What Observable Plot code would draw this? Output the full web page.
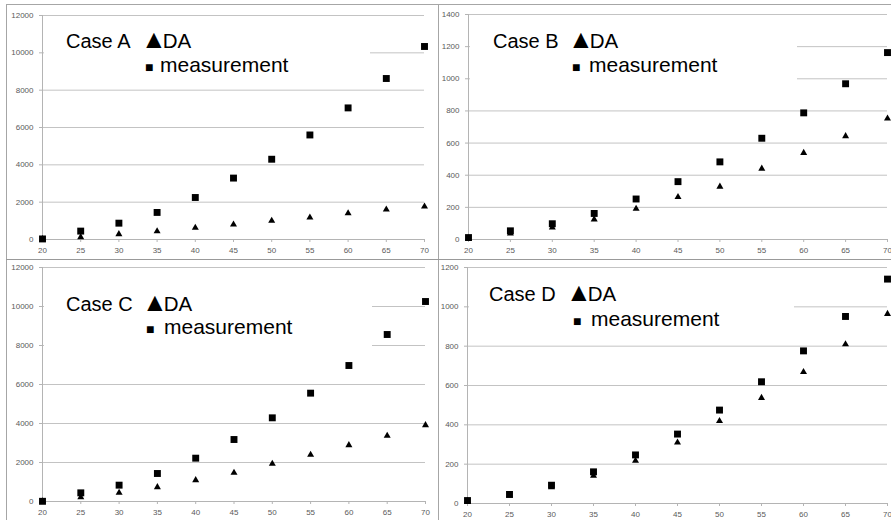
<!DOCTYPE html>
<html><head><meta charset="utf-8">
<script src="https://cdn.jsdelivr.net/npm/d3@7"></script>
<script src="https://cdn.jsdelivr.net/npm/@observablehq/plot@0.6"></script>
<style>
body{margin:0;background:#fff;overflow:hidden}
#wrap{position:relative;width:891px;height:520px;overflow:hidden;background:#fff}
.panel{position:absolute}
#overlay{position:absolute;left:0;top:0;pointer-events:none}
</style></head><body><div id="wrap"></div>
<script>
// ---- data ----
const ages = [20, 25, 30, 35, 40, 45, 50, 55, 60, 65, 70];
const yTicksAC = [0, 2000, 4000, 6000, 8000, 10000, 12000];
const yTicksB = [0, 200, 400, 600, 800, 1000, 1200, 1400];
const yTicksD = [0, 200, 400, 600, 800, 1000, 1200];
const caseNames = ["Case A", "Case B", "Case C", "Case D"];
const seriesDA = "DA";
const seriesMeas = "measurement";

const measA = [30, 450, 875, 1450, 2250, 3290, 4300, 5600, 7050, 8625, 10340];
const daA   = [20, 125, 286, 446, 625, 804, 1000, 1180, 1410, 1605, 1770];
const measB = [12, 54, 98, 162, 252, 360, 483, 630, 788, 969, 1163];
const daB   = [8, 37, 75, 125, 191, 264, 329, 441, 539, 643, 753];
const measC = [10, 444, 838, 1436, 2222, 3179, 4291, 5556, 6974, 8564, 10256];
const daC   = [10, 222, 444, 735, 1094, 1470, 1932, 2393, 2889, 3368, 3915];
const measD = [15, 46, 93, 161, 247, 353, 475, 619, 776, 951, 1141];
const daD   = [12, 41, 83, 141, 217, 310, 419, 537, 669, 810, 964];

// ---- layout ----
const panels = [
  {name: caseNames[0], da: daA, meas: measA, yTicks: yTicksAC, left: 0, top: 0, w: 438, h: 259, ml: 42, mt: 15, mb: 20, mr: 14,
   box: [44, 20, 370, 85], lg: {cx: 66, cy: 48, tx: 145, mx: 145, my: 72, mtx: 160}},
  {name: caseNames[1], da: daB, meas: measB, yTicks: yTicksB, left: 438, top: 0, w: 453, h: 259, ml: 30, mt: 14, mb: 20, mr: 4,
   box: [470, 20, 797, 100], lg: {cx: 493, cy: 48, tx: 572, mx: 572, my: 72, mtx: 589}},
  {name: caseNames[2], da: daC, meas: measC, yTicks: yTicksAC, left: 0, top: 259, w: 438, h: 261, ml: 42, mt: 8, mb: 19, mr: 13,
   box: [44, 272, 372, 355], lg: {cx: 66, cy: 311, tx: 146, mx: 146, my: 334, mtx: 164}},
  {name: caseNames[3], da: daD, meas: measD, yTicks: yTicksD, left: 438, top: 259, w: 453, h: 261, ml: 29, mt: 8, mb: 17, mr: 4,
   box: [469, 275, 794, 335], lg: {cx: 489, cy: 301, tx: 570, mx: 573, my: 326, mtx: 591}}
];

const wrap = document.getElementById("wrap");
const gridColor = "#c3c3c3";
const axisColor = "#b4b4b4";

for (const p of panels) {
  const da = ages.map((a, i) => ({age: a, v: p.da[i]}));
  const ms = ages.map((a, i) => ({age: a, v: p.meas[i]}));
  const chart = Plot.plot({
    width: p.w, height: p.h,
    marginLeft: p.ml, marginTop: p.mt, marginBottom: p.mb, marginRight: p.mr,
    style: {fontFamily: "'Liberation Sans', Arial, sans-serif", fontSize: "8px", color: "#5a5a5a", background: "transparent", overflow: "visible"},
    x: {domain: [ages[0], ages[ages.length - 1]]},
    y: {domain: [0, p.yTicks[p.yTicks.length - 1]]},
    marks: [
      Plot.gridY(p.yTicks, {stroke: gridColor, strokeOpacity: 1}),
      Plot.ruleX([ages[0]], {stroke: axisColor}),
      Plot.ruleY([0], {stroke: axisColor}),
      Plot.axisY(p.yTicks, {tickSize: 3, tickPadding: 6, stroke: axisColor, label: null, tickFormat: d3.format("d")}),
      Plot.axisX(ages, {tickSize: 3, tickPadding: 5, stroke: axisColor, label: null, tickFormat: d3.format("d")}),
      Plot.dot(da, {x: "age", y: "v", symbol: "triangle", r: 2.6, fill: "#000", stroke: "none"}),
      Plot.dot(ms, {x: "age", y: "v", symbol: "square", r: 3.9, fill: "#000", stroke: "none"})
    ]
  });
  const div = document.createElement("div");
  div.className = "panel";
  div.style.left = p.left + "px";
  div.style.top = p.top + "px";
  div.appendChild(chart);
  wrap.appendChild(div);
}

// ---- overlay: legends and panel frame ----
const svg = d3.select(wrap).append("svg").attr("id", "overlay").attr("width", 891).attr("height", 520);
const frame = "#a6a6a6";
svg.append("line").attr("x1", 6).attr("x2", 891).attr("y1", 4.5).attr("y2", 4.5).attr("stroke", frame);
svg.append("line").attr("x1", 6.5).attr("x2", 6.5).attr("y1", 4).attr("y2", 520).attr("stroke", frame);
svg.append("line").attr("x1", 438.5).attr("x2", 438.5).attr("y1", 4).attr("y2", 520).attr("stroke", frame);
svg.append("line").attr("x1", 6).attr("x2", 891).attr("y1", 259.5).attr("y2", 259.5).attr("stroke", "#999");

const font = "'Liberation Sans', Arial, sans-serif";
for (const p of panels) {
  const [x0, y0, x1, y1] = p.box;
  svg.append("rect").attr("x", x0).attr("y", y0).attr("width", x1 - x0).attr("height", y1 - y0).attr("fill", "#fff");
  const g = svg.append("g").attr("font-family", font).attr("fill", "#000");
  g.append("text").attr("x", p.lg.cx).attr("y", p.lg.cy).attr("font-size", 20).text(p.name);
  const t1 = g.append("text").attr("x", p.lg.tx - 4).attr("y", p.lg.cy);
  t1.append("tspan").attr("font-size", 26).attr("letter-spacing", "-4px").text("▲");
  t1.append("tspan").attr("font-size", 20.5).text(seriesDA);
  const t2 = g.append("text").attr("x", p.lg.mx).attr("y", p.lg.my);
  t2.append("tspan").attr("font-size", 14).text("■");
  t2.append("tspan").attr("x", p.lg.mtx).attr("font-size", 21).text(seriesMeas);
}
</script></body></html>
